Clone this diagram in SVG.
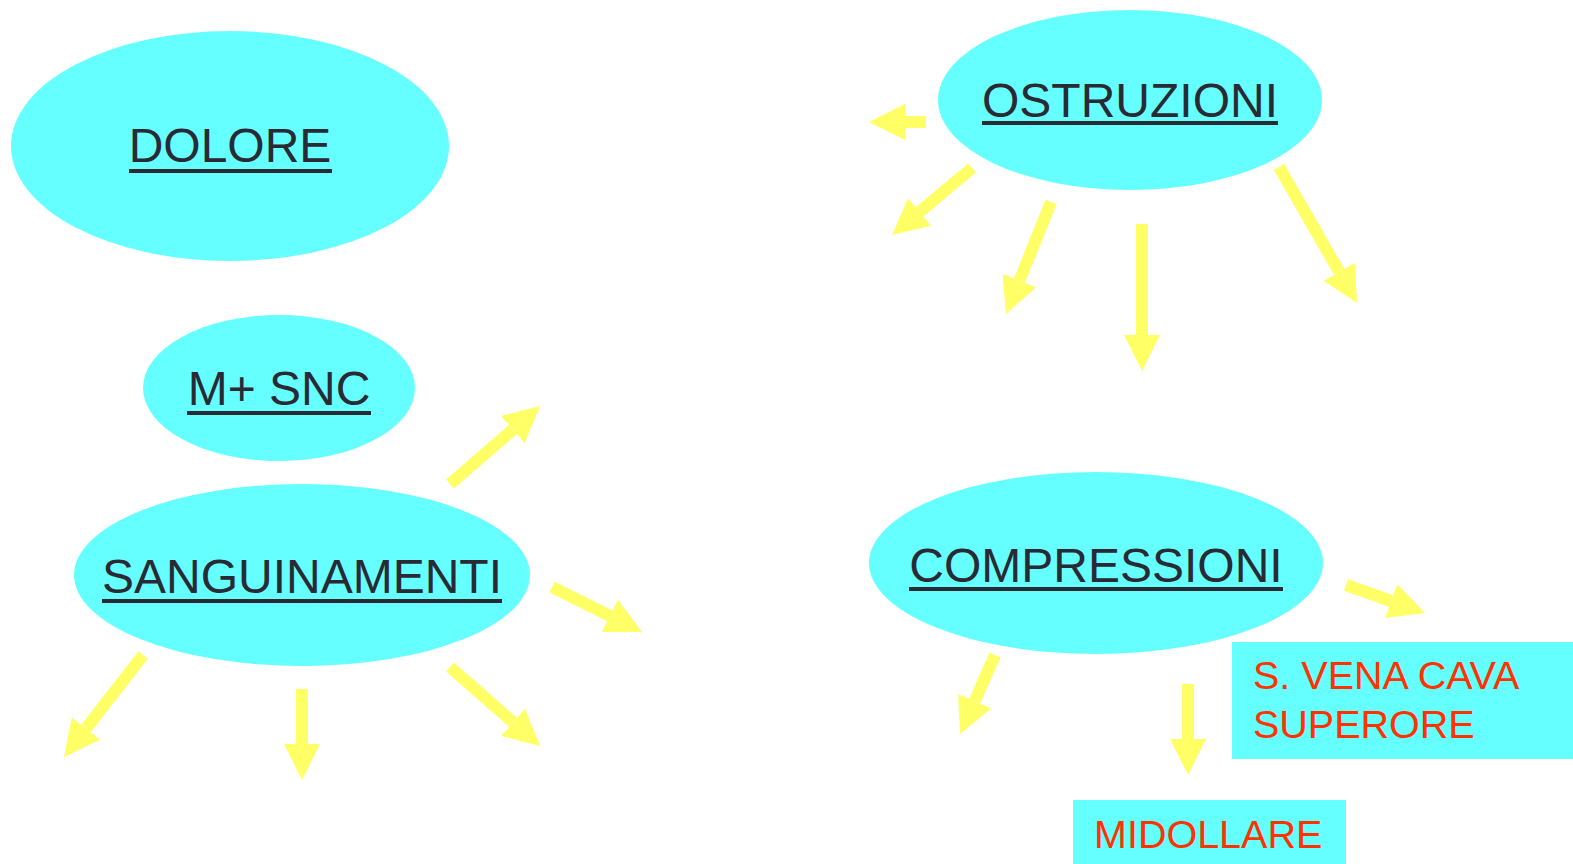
<svg xmlns="http://www.w3.org/2000/svg" width="1573" height="864" viewBox="0 0 1573 864">
<style>
.n{fill:#66FFFF}
.t{font-family:"Liberation Sans",Arial,sans-serif;font-size:48px;fill:#292A33;text-anchor:middle}
.u{fill:#292A33}
.r{font-family:"Liberation Sans",Arial,sans-serif;font-size:39.5px;fill:#FF3300}
.a line{stroke:#FFFF66;stroke-width:12;marker-end:url(#h)}
</style>
<defs>
<marker id="h" markerUnits="userSpaceOnUse" markerWidth="36" markerHeight="36" viewBox="0 0 36 36" refX="0" refY="18" orient="auto">
<path d="M0,0 L36,18 L0,36 z" fill="#FFFF66"/>
</marker>
</defs>
<rect width="1573" height="864" fill="#FFFFFF"/>
<g id="dolore">
<ellipse class="n" cx="230" cy="146" rx="219" ry="115"/>
<text class="t" x="230" y="162">DOLORE</text>
<rect class="u" x="129" y="169" width="203" height="4"/>
</g>
<g id="msnc">
<ellipse class="n" cx="279" cy="388" rx="136" ry="73"/>
<text class="t" x="279" y="405">M+ SNC</text>
<rect class="u" x="187" y="411" width="184" height="4"/>
</g>
<g id="sanguinamenti">
<ellipse class="n" cx="302" cy="575" rx="228" ry="91"/>
<text class="t" x="302" y="593">SANGUINAMENTI</text>
<rect class="u" x="102" y="599" width="400" height="4"/>
</g>
<g id="ostruzioni">
<ellipse class="n" cx="1130" cy="100" rx="192" ry="90"/>
<text class="t" x="1130" y="117">OSTRUZIONI</text>
<rect class="u" x="982" y="121" width="296" height="4"/>
</g>
<g id="compressioni">
<ellipse class="n" cx="1096" cy="563" rx="227" ry="91"/>
<text class="t" x="1096" y="582">COMPRESSIONI</text>
<rect class="u" x="909" y="587" width="374" height="4"/>
</g>
<g id="venacava">
<rect class="n" x="1232" y="642" width="341" height="117"/>
<text class="r" x="1253" y="689">S. VENA CAVA</text>
<text class="r" x="1253" y="738">SUPERORE</text>
</g>
<g id="midollare">
<rect class="n" x="1073" y="800" width="273" height="64"/>
<text class="r" x="1094" y="848">MIDOLLARE</text>
</g>
<g id="connectors" class="a">
<line x1="926" y1="122" x2="905" y2="122"/>
<line x1="972" y1="168" x2="919.6" y2="211.9"/>
<line x1="1051" y1="202" x2="1019.4" y2="280.6"/>
<line x1="1142" y1="224" x2="1142" y2="335"/>
<line x1="1279" y1="167" x2="1339.1" y2="271.8"/>
<line x1="450" y1="484" x2="512.8" y2="429.6"/>
<line x1="552" y1="587" x2="609.8" y2="615.9"/>
<line x1="143" y1="655" x2="86" y2="728.5"/>
<line x1="302" y1="689" x2="302" y2="744"/>
<line x1="450" y1="667" x2="513" y2="722.3"/>
<line x1="1346" y1="585" x2="1391.1" y2="601"/>
<line x1="995" y1="655" x2="974.6" y2="701.1"/>
<line x1="1188" y1="684" x2="1188" y2="739"/>
</g>
</svg>
